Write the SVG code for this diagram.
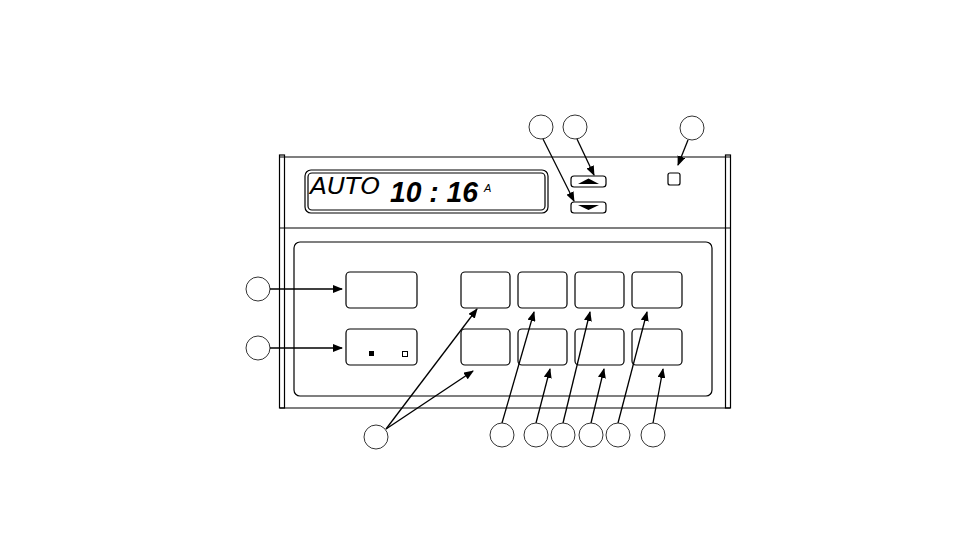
<svg xmlns="http://www.w3.org/2000/svg" width="954" height="551" viewBox="0 0 954 551">
<style>
.l{fill:none;stroke:#000;stroke-width:1.2}
.c{fill:#fff;stroke:#000;stroke-width:0.8}
.b{fill:#fff;stroke:#000;stroke-width:1.2}
.a{stroke:#000;stroke-width:1.3;fill:none;marker-end:url(#ah)}
</style>
<defs><marker id="ah" markerWidth="10" markerHeight="8" refX="9" refY="4" orient="auto" markerUnits="userSpaceOnUse"><path d="M0,0 L10,4 L0,8 Z" fill="#000"/></marker></defs>
<rect width="954" height="551" fill="#fff"/>
<g id="frame">
<line class="l" x1="280" y1="157" x2="730" y2="157"/>
<line class="l" x1="280" y1="228" x2="730" y2="228"/>
<line class="l" x1="280" y1="408" x2="730" y2="408"/>
<rect class="l" x="279.5" y="155" width="5" height="253"/>
<rect class="l" x="725.5" y="155" width="5" height="253"/>
<rect class="l" x="294" y="242" width="418" height="154" rx="6"/>
</g>
<g id="display">
<rect class="l" x="305" y="170" width="243" height="43" rx="6"/>
<rect class="l" x="308" y="173" width="237" height="37" rx="4"/>
<text x="310" y="194" font-family="DejaVu Sans ExtraLight, DejaVu Sans" font-size="23" font-style="italic" font-weight="200" textLength="70" lengthAdjust="spacingAndGlyphs">AUTO</text>
<text x="390" y="202" font-family="Liberation Sans" font-size="29" font-style="italic" font-weight="bold" textLength="88" lengthAdjust="spacingAndGlyphs">10 : 16</text>
<text x="484" y="192" font-family="Liberation Sans" font-size="11" font-style="italic">A</text>
</g>
<g id="updown">
<rect class="b" x="571" y="176" width="35" height="11" rx="3"/>
<path d="M578,184 L588.5,178.5 L599,184 Z"/>
<rect class="b" x="571" y="202" width="35" height="11" rx="3"/>
<path d="M578,205 L588.5,210 L599,205 Z"/>
<rect class="b" x="668" y="173" width="12" height="12" rx="2"/>
</g>
<g id="buttons">
<rect class="b" x="346" y="272" width="71" height="36" rx="4"/>
<rect class="b" x="346" y="329" width="71" height="36" rx="4"/>
<rect x="369" y="351" width="5" height="5"/>
<rect x="402.5" y="351.5" width="5" height="5" fill="#fff" stroke="#000" stroke-width="1"/>
<rect class="b" x="461" y="272" width="49" height="36" rx="4"/>
<rect class="b" x="518" y="272" width="49" height="36" rx="4"/>
<rect class="b" x="575" y="272" width="49" height="36" rx="4"/>
<rect class="b" x="632" y="272" width="50" height="36" rx="4"/>
<rect class="b" x="461" y="329" width="49" height="36" rx="4"/>
<rect class="b" x="518" y="329" width="49" height="36" rx="4"/>
<rect class="b" x="575" y="329" width="49" height="36" rx="4"/>
<rect class="b" x="632" y="329" width="50" height="36" rx="4"/>
</g>
<g id="connectors">
<line class="a" x1="270" y1="289" x2="342" y2="289"/>
<line class="a" x1="270" y1="348" x2="342" y2="348"/>
<line class="a" x1="543" y1="139" x2="574" y2="201"/>
<line class="a" x1="577" y1="139" x2="594" y2="175"/>
<line class="a" x1="688" y1="140" x2="678" y2="165"/>
<line class="a" x1="386" y1="429" x2="477" y2="309"/>
<line class="a" x1="386" y1="429" x2="473" y2="371"/>
<line class="a" x1="502" y1="423" x2="534" y2="312"/>
<line class="a" x1="536" y1="423" x2="550" y2="369"/>
<line class="a" x1="563" y1="423" x2="590" y2="312"/>
<line class="a" x1="591" y1="423" x2="604" y2="369"/>
<line class="a" x1="618" y1="423" x2="647" y2="312"/>
<line class="a" x1="653" y1="423" x2="663" y2="369"/>
</g>
<g id="callouts">
<circle class="c" cx="541" cy="127" r="12"/>
<circle class="c" cx="575" cy="127" r="12"/>
<circle class="c" cx="692" cy="128" r="12"/>
<circle class="c" cx="258" cy="289" r="12"/>
<circle class="c" cx="258" cy="348" r="12"/>
<circle class="c" cx="376" cy="437" r="12"/>
<circle class="c" cx="502" cy="435" r="12"/>
<circle class="c" cx="536" cy="435" r="12"/>
<circle class="c" cx="563" cy="435" r="12"/>
<circle class="c" cx="591" cy="435" r="12"/>
<circle class="c" cx="618" cy="435" r="12"/>
<circle class="c" cx="653" cy="435" r="12"/>
</g>
</svg>
